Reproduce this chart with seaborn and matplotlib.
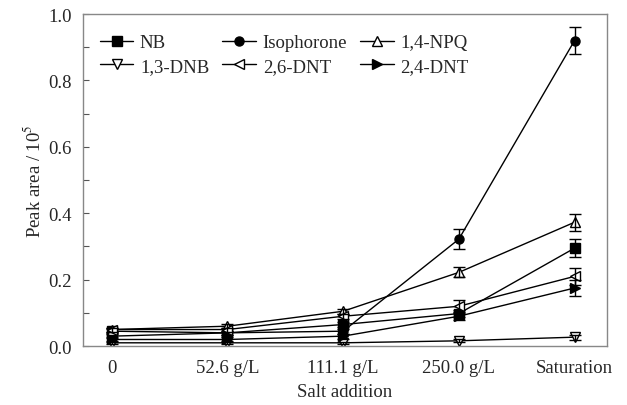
import matplotlib
matplotlib.use("Agg")
import matplotlib.pyplot as plt
import seaborn as sns
import numpy as np
import pandas as pd
from matplotlib.ticker import MultipleLocator

categories = ["0", "52.6 g/L", "111.1 g/L", "250.0 g/L", "Saturation"]

nb = [0.045, 0.040, 0.065, 0.098, 0.295]
iso = [0.030, 0.040, 0.045, 0.322, 0.920]
npq = [0.050, 0.060, 0.105, 0.222, 0.373]
dnb13 = [0.010, 0.010, 0.010, 0.016, 0.027]
dnt26 = [0.050, 0.050, 0.090, 0.120, 0.210]
dnt24 = [0.020, 0.020, 0.030, 0.090, 0.175]

nb_err = [0.006, 0.006, 0.008, 0.010, 0.028]
iso_err = [0.006, 0.006, 0.008, 0.030, 0.040]
npq_err = [0.006, 0.006, 0.008, 0.015, 0.025]
dnb13_err = [0.003, 0.003, 0.003, 0.005, 0.008]
dnt26_err = [0.006, 0.006, 0.008, 0.018, 0.025]
dnt24_err = [0.006, 0.006, 0.008, 0.010, 0.025]

series = [
    ("NB", nb, nb_err, "s", "black"),
    ("Isophorone", iso, iso_err, "o", "black"),
    ("1,4-NPQ", npq, npq_err, "^", "white"),
    ("1,3-DNB", dnb13, dnb13_err, "v", "white"),
    ("2,6-DNT", dnt26, dnt26_err, "<", "white"),
    ("2,4-DNT", dnt24, dnt24_err, ">", "black"),
]

sns.set_style("white")
plt.rcParams["font.family"] = ["Liberation Serif", "DejaVu Serif"]
plt.rcParams["mathtext.fontset"] = "stix"

FS = 13.5
fig = plt.figure(figsize=(6.27, 4.06), dpi=100)
ax = fig.add_axes([0.132, 0.145, 0.836, 0.818])

xpos = np.arange(len(categories))
for name, vals, errs, mk, fc in series:
    df = pd.DataFrame({"x": xpos, "y": vals})
    sns.lineplot(data=df, x="x", y="y", ax=ax, color="black", lw=1.0,
                 marker=mk, markersize=6.5, markerfacecolor=fc,
                 markeredgecolor="black", markeredgewidth=1.0, label=name)
    ax.errorbar(xpos, vals, yerr=errs, fmt="none", ecolor="black",
                elinewidth=1.0, capsize=4, capthick=1.0)

ax.set_xlim(-0.25, 4.28)
ax.set_ylim(0, 1.0)
ax.set_xticks(xpos)
ax.set_xticklabels(categories)
ax.yaxis.set_major_locator(MultipleLocator(0.2))
ax.yaxis.set_minor_locator(MultipleLocator(0.1))
ax.yaxis.set_major_formatter(matplotlib.ticker.FormatStrFormatter("%.1f"))
ax.tick_params(axis="y", which="both", direction="in", left=True, length=4,
               labelsize=FS, width=0.8, color="#555555", pad=8)
ax.tick_params(axis="x", which="both", bottom=False, labelsize=FS, pad=6)
for s in ax.spines.values():
    s.set_color("#888888")
    s.set_linewidth(1.0)

ax.set_xlabel("Salt addition", fontsize=FS, labelpad=5)
ax.set_ylabel("Peak area / 10$^5$", fontsize=FS, labelpad=3)

handles, labels = ax.get_legend_handles_labels()
order = [0, 3, 1, 4, 2, 5]
ax.legend([handles[i] for i in order], [labels[i] for i in order],
          loc="upper left", ncol=3, frameon=False, fontsize=FS,
          handlelength=1.8, columnspacing=0.7, handletextpad=0.35,
          labelspacing=0.35, bbox_to_anchor=(0.0, 0.99))

fig.savefig("out.png", dpi=100)
